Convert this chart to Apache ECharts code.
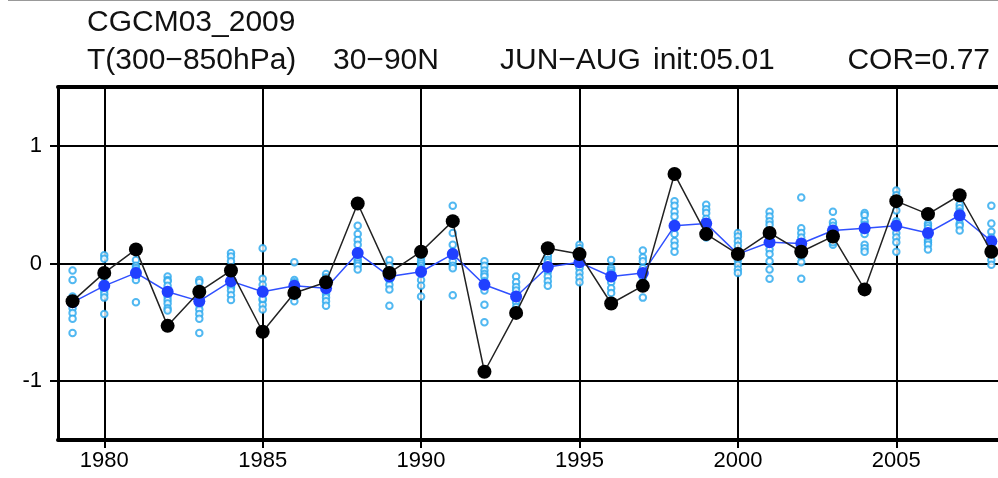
<!DOCTYPE html>
<html>
<head>
<meta charset="utf-8">
<script src="https://cdn.jsdelivr.net/npm/echarts@6/dist/echarts.min.js"></script>
<style>
  html, body { margin: 0; padding: 0; background: #fff; }
  #chart { width: 998px; height: 478px; }
</style>
</head>
<body>
<div id="chart"></div>
<script>
// years on the x axis
const years = [1979, 1980, 1981, 1982, 1983, 1984, 1985, 1986, 1987, 1988,
  1989, 1990, 1991, 1992, 1993, 1994, 1995, 1996, 1997, 1998,
  1999, 2000, 2001, 2002, 2003, 2004, 2005, 2006, 2007, 2008]

// observation (black)
const obs = [-0.32, -0.08, 0.12, -0.53, -0.24, -0.06, -0.58, -0.25, -0.16, 0.51,
  -0.08, 0.10, 0.36, -0.92, -0.42, 0.13, 0.08, -0.34, -0.19, 0.76,
  0.25, 0.08, 0.26, 0.10, 0.23, -0.22, 0.53, 0.42, 0.58, 0.10]

// ensemble mean (blue)
const ensMean = [-0.33, -0.19, -0.08, -0.24, -0.32, -0.15, -0.24, -0.19, -0.21, 0.09,
  -0.11, -0.07, 0.08, -0.18, -0.28, -0.03, 0.01, -0.11, -0.08, 0.32,
  0.34, 0.08, 0.18, 0.17, 0.28, 0.30, 0.32, 0.26, 0.41, 0.19]

// ensemble members (light blue open circles), one list per year
const members = [
  [-0.06, -0.14, -0.28, -0.33, -0.38, -0.42, -0.47, -0.59, -0.30],
  [0.07, 0.04, -0.12, -0.18, -0.20, -0.23, -0.26, -0.29, -0.43],
  [0.03, -0.02, -0.04, -0.06, -0.08, -0.09, -0.11, -0.14, -0.33],
  [-0.11, -0.14, -0.15, -0.19, -0.24, -0.28, -0.31, -0.34, -0.38, -0.40],
  [-0.14, -0.16, -0.22, -0.27, -0.31, -0.35, -0.39, -0.43, -0.47, -0.59],
  [0.09, 0.06, 0.02, -0.10, -0.15, -0.19, -0.20, -0.23, -0.27, -0.31],
  [0.13, -0.13, -0.18, -0.22, -0.26, -0.31, -0.35, -0.39, -0.30],
  [0.01, -0.14, -0.16, -0.18, -0.20, -0.22, -0.25, -0.28, -0.32],
  [-0.09, -0.12, -0.15, -0.18, -0.22, -0.26, -0.29, -0.32, -0.36],
  [0.32, 0.25, 0.20, 0.16, 0.04, 0.02, 0.00, -0.02, -0.05],
  [0.03, -0.02, -0.06, -0.09, -0.11, -0.14, -0.18, -0.22, -0.36],
  [0.05, 0.02, 0.00, -0.02, -0.04, -0.08, -0.14, -0.19, -0.28],
  [0.49, 0.26, 0.16, 0.10, 0.06, 0.02, -0.02, -0.04, -0.27],
  [0.02, -0.02, -0.06, -0.09, -0.11, -0.15, -0.23, -0.35, -0.50],
  [-0.11, -0.16, -0.20, -0.23, -0.27, -0.30, -0.33, -0.37, -0.40],
  [0.08, 0.06, 0.03, 0.01, -0.02, -0.04, -0.07, -0.11, -0.15, -0.19],
  [0.16, 0.13, 0.08, 0.04, 0.01, -0.02, -0.04, -0.08, -0.12, -0.16],
  [0.03, -0.04, -0.06, -0.08, -0.11, -0.13, -0.16, -0.21, -0.25],
  [0.11, 0.05, 0.02, -0.04, -0.08, -0.12, -0.16, -0.20, -0.29],
  [0.53, 0.49, 0.44, 0.40, 0.34, 0.30, 0.25, 0.19, 0.15, 0.10],
  [0.50, 0.46, 0.43, 0.38, 0.34, 0.31, 0.27, 0.24, 0.22, 0.25],
  [0.26, 0.23, 0.19, 0.15, 0.10, 0.06, 0.03, -0.01, -0.05, -0.08],
  [0.44, 0.40, 0.36, 0.33, 0.18, 0.12, 0.08, 0.02, -0.05, -0.13],
  [0.56, 0.30, 0.26, 0.22, 0.18, 0.14, 0.10, 0.06, 0.01, -0.13],
  [0.44, 0.35, 0.32, 0.29, 0.27, 0.25, 0.22, 0.20, 0.16, 0.18],
  [0.43, 0.41, 0.36, 0.33, 0.30, 0.28, 0.25, 0.16, 0.13, 0.10],
  [0.62, 0.58, 0.45, 0.36, 0.34, 0.30, 0.26, 0.22, 0.18, 0.10],
  [0.42, 0.34, 0.32, 0.30, 0.27, 0.24, 0.20, 0.18, 0.16, 0.12],
  [0.56, 0.50, 0.47, 0.44, 0.42, 0.40, 0.38, 0.34, 0.32, 0.28],
  [0.49, 0.34, 0.27, 0.22, 0.18, 0.14, 0.10, 0.08, 0.03, -0.01]
]

// tick labels
const xTicks = [1980, 1985, 1990, 1995, 2000, 2005]
const yTicks = [-1, 0, 1]

const memberData = []
members.forEach((list, i) => {
  list.forEach(v => memberData.push([years[i], v]))
})

const font = '"Liberation Sans", Arial, Helvetica, sans-serif'
const titleFont = '30px ' + font

const myChart = echarts.init(document.getElementById('chart'), null, { renderer: 'canvas' })

const option = {
  animation: false,
  grid: { left: 58, right: 0, top: 87, bottom: 38, containLabel: false },
  xAxis: [
    {
      type: 'value',
      min: 1978.54,
      max: 2008.21,
      position: 'bottom',
      axisLine: { onZero: false, lineStyle: { color: '#000', width: 4 } },
      axisTick: { customValues: xTicks, length: 8, lineStyle: { color: '#000', width: 2 } },
      axisLabel: {
        customValues: xTicks,
        color: '#000',
        fontFamily: font,
        fontSize: 22,
        margin: 10,
        formatter: v => String(v)
      },
      splitLine: { show: true, lineStyle: { color: '#000', width: 2 } }
    },
    {
      type: 'value',
      min: 1978.54,
      max: 2008.21,
      position: 'top',
      axisLine: { onZero: false, lineStyle: { color: '#000', width: 4 } },
      axisTick: { show: false },
      axisLabel: { show: false },
      splitLine: { show: false }
    }
  ],
  yAxis: {
    type: 'value',
    min: -1.5,
    max: 1.5,
    axisLine: { show: true, onZero: false, lineStyle: { color: '#000', width: 3 } },
    axisTick: { show: true, customValues: yTicks, length: 8, lineStyle: { color: '#000', width: 2 } },
    axisLabel: {
      customValues: yTicks,
      color: '#000',
      fontFamily: font,
      fontSize: 22,
      margin: 16
    },
    splitLine: { show: true, lineStyle: { color: '#000', width: 2 } }
  },
  graphic: [
    { type: 'line', shape: { x1: 8, y1: 0.5, x2: 998, y2: 0.5 }, style: { stroke: '#999', lineWidth: 1 } },
    { type: 'text', x: 87, y: 23, style: { text: 'CGCM03_2009', font: titleFont, fill: '#111', textVerticalAlign: 'middle' } },
    { type: 'text', x: 87, y: 61, style: { text: 'T(300−850hPa)', font: titleFont, fill: '#111', textVerticalAlign: 'middle' } },
    { type: 'text', x: 333, y: 61, style: { text: '30−90N', font: titleFont, fill: '#111', textVerticalAlign: 'middle' } },
    { type: 'text', x: 500, y: 61, style: { text: 'JUN−AUG', font: titleFont, fill: '#111', textVerticalAlign: 'middle' } },
    { type: 'text', x: 653, y: 61, style: { text: 'init:05.01', font: titleFont, fill: '#111', textVerticalAlign: 'middle' } },
    { type: 'text', x: 990, y: 61, style: { text: 'COR=0.77', font: titleFont, fill: '#111', textAlign: 'right', textVerticalAlign: 'middle' } }
  ],
  series: [
    {
      name: 'members',
      type: 'scatter',
      data: memberData,
      symbol: 'emptyCircle',
      symbolSize: 6.5,
      itemStyle: { color: '#26a6ee', borderWidth: 1.6 },
      z: 2
    },
    {
      name: 'ensemble mean',
      type: 'line',
      data: years.map((y, i) => [y, ensMean[i]]),
      symbol: 'circle',
      symbolSize: 12,
      itemStyle: { color: '#2040ff' },
      lineStyle: { color: '#3050ff', width: 1.5 },
      z: 3
    },
    {
      name: 'obs',
      type: 'line',
      data: years.map((y, i) => [y, obs[i]]),
      symbol: 'circle',
      symbolSize: 14,
      itemStyle: { color: '#000' },
      lineStyle: { color: '#222', width: 1.5 },
      z: 4
    }
  ]
}

myChart.setOption(option)
</script>
</body>
</html>
